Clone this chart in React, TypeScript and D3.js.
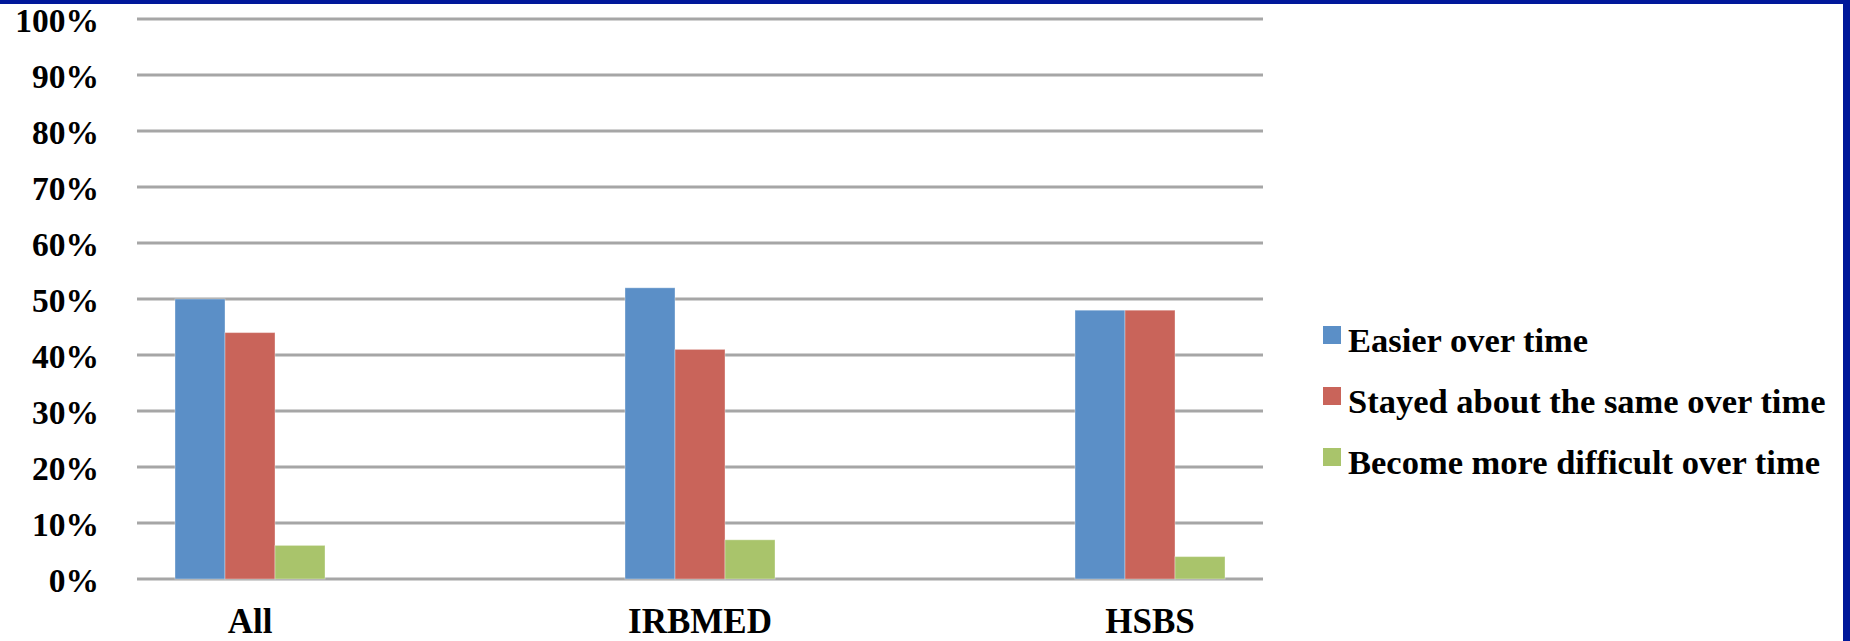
import React from "react";
import * as d3 from "d3";

const categories = ["All", "IRBMED", "HSBS"];
const seriesNames = [
  "Easier over time",
  "Stayed about the same over time",
  "Become more difficult over time",
];
const easier = [50, 52, 48];
const same = [44, 41, 48];
const harder = [6, 7, 4];
const yTicks = [0, 10, 20, 30, 40, 50, 60, 70, 80, 90, 100];
const colors = ["#5B8FC7", "#C9645A", "#A9C46B"];
// Excel chart reserved 6 series slots; only the first 3 hold data
const slots = ["s0", "s1", "s2", "s3", "s4", "s5"];

const W = 1850;
const H = 641;

export default function App() {
  const series = [easier, same, harder];
  const gridLeft = 137;
  const gridRight = 1263;
  const x0 = d3.scaleBand<string>().domain(categories).range([100, 1450]).padding(0);
  const x1 = d3
    .scaleBand<string>()
    .domain(slots)
    .range([0, x0.bandwidth()])
    .paddingInner(0)
    .paddingOuter(1.5);
  const y = d3.scaleLinear().domain([0, 100]).range([579, 19]);
  const font = "'Liberation Serif', 'Times New Roman', serif";

  return (
    <svg
      width={W}
      height={H}
      style={{ position: "absolute", left: 0, top: 0, background: "#fff" }}
    >
      <rect x={0} y={0} width={W} height={H} fill="#fff" />
      {/* gridlines */}
      {yTicks.map((t) => (
        <line
          key={t}
          x1={gridLeft}
          x2={gridRight}
          y1={y(t)}
          y2={y(t)}
          stroke="#A6A6A6"
          strokeWidth={3}
        />
      ))}
      {/* y labels */}
      {yTicks.map((t) => (
        <text
          key={"l" + t}
          x={99}
          y={y(t) + 13}
          textAnchor="end"
          fontFamily={font}
          fontWeight="bold"
          fontSize={33.5}
          fill="#000"
        >
          {t + "%"}
        </text>
      ))}
      {/* bars */}
      {categories.map((c, ci) => (
        <g key={c} transform={`translate(${x0(c)},0)`}>
          {series.map((s, si) => (
            <rect
              key={si}
              x={x1(slots[si])}
              y={y(s[ci])}
              width={x1.bandwidth()}
              height={y(0) - y(s[ci])}
              fill={colors[si]}
              stroke="#fff"
              strokeOpacity={0.35}
              strokeWidth={1}
            />
          ))}
          <text
            x={(x1(slots[0]) as number) + x1.bandwidth() * 1.5}
            y={633}
            textAnchor="middle"
            fontFamily={font}
            fontWeight="bold"
            fontSize={35}
            fill="#000"
          >
            {c}
          </text>
        </g>
      ))}
      {/* legend */}
      {seriesNames.map((n, i) => (
        <g key={n} transform={`translate(1323,${326 + i * 61})`}>
          <rect x={0} y={0} width={18} height={18} fill={colors[i]} />
          <text
            x={25}
            y={26}
            fontFamily={font}
            fontWeight="bold"
            fontSize={34.5}
            fill="#000"
          >
            {n}
          </text>
        </g>
      ))}
      {/* frame */}
      <rect x={0} y={0} width={W} height={4} fill="#00189A" />
      <rect x={1843} y={0} width={7} height={H} fill="#00189A" />
    </svg>
  );
}
